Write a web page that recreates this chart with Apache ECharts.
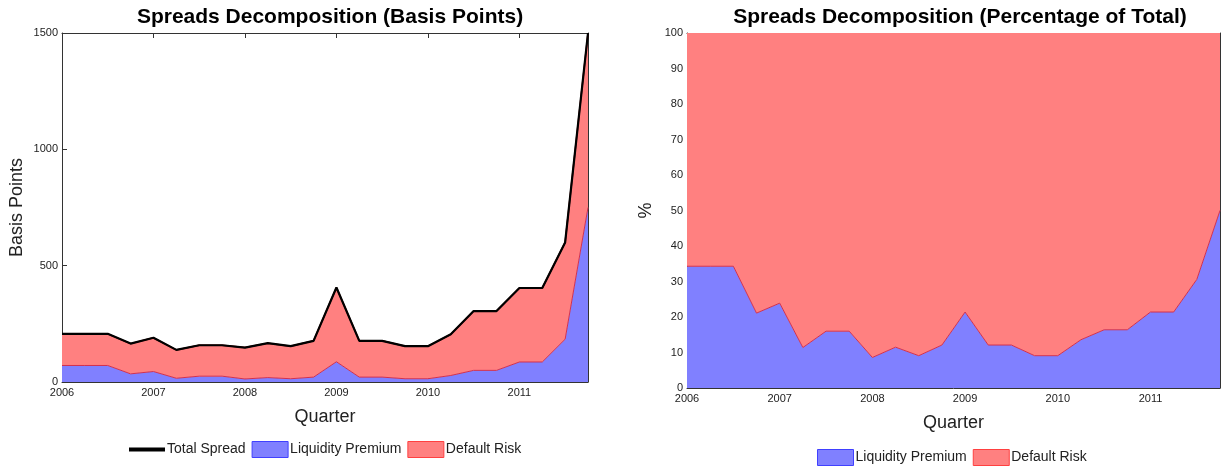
<!DOCTYPE html>
<html>
<head>
<meta charset="utf-8">
<script src="https://cdn.jsdelivr.net/npm/echarts@6/dist/echarts.min.js"></script>
<style>
html,body{margin:0;padding:0;background:#fff;}
#chart{width:1221px;height:468px;}
</style>
</head>
<body>
<div id="chart"></div>
<script>
const quarters = ['2006Q1','2006Q2','2006Q3','2006Q4','2007Q1','2007Q2','2007Q3','2007Q4',
  '2008Q1','2008Q2','2008Q3','2008Q4','2009Q1','2009Q2','2009Q3','2009Q4',
  '2010Q1','2010Q2','2010Q3','2010Q4','2011Q1','2011Q2','2011Q3','2011Q4'];
const totalSpreadBp = [207,207,207,165,190,138,158,158,148,167,154,177,406,177,177,154,154,205,305,305,404,404,600,1500];
const liquidityBp   = [71,71,71,35,45,16,25,25,13,19,14,21,87,21,21,14,14,28,50,50,86,86,184,750];
const defaultRiskBp = [136,136,136,130,145,122,133,133,135,148,140,156,319,156,156,140,140,177,255,255,318,318,416,750];
const liquidityPct  = [34.3,34.3,34.3,21.1,23.9,11.4,16.0,16.0,8.6,11.5,9.1,12.1,21.4,12.1,12.1,9.1,9.1,13.6,16.4,16.4,21.4,21.4,30.6,50.0];
const defaultPct    = [65.7,65.7,65.7,78.9,76.1,88.6,84.0,84.0,91.4,88.5,90.9,87.9,78.6,87.9,87.9,90.9,90.9,86.4,83.6,83.6,78.6,78.6,69.4,50.0];
const leftTitle = 'Spreads Decomposition (Basis Points)';
const rightTitle = 'Spreads Decomposition (Percentage of Total)';

const FONT = '"Liberation Sans", Arial, sans-serif';
const AX = '#333';
const BLUE = '#8080ff';
const RED = '#ff8080';

function xAx(grid, pos, labels, name) {
  return {
    type: 'category', gridIndex: grid, position: pos, data: quarters, boundaryGap: false,
    axisLine: { show: true, onZero: false, lineStyle: { color: AX, width: 1 } },
    axisTick: { show: true, inside: true, length: 5, interval: 3, lineStyle: { color: AX } },
    axisLabel: { show: labels, interval: 3, formatter: v => v.slice(0, 4), fontSize: 11, color: '#222', fontFamily: FONT, margin: 5 },
    splitLine: { show: false },
    name: name || '', nameLocation: 'middle', nameGap: 26,
    nameTextStyle: { fontSize: 18, color: '#222', fontFamily: FONT }
  };
}
function yAx(grid, pos, max, interval, labels, name, gap) {
  return {
    type: 'value', gridIndex: grid, position: pos, min: 0, max: max, interval: interval,
    axisLine: { show: true, lineStyle: { color: AX, width: 1 } },
    axisTick: { show: true, inside: true, length: 5, lineStyle: { color: AX } },
    axisLabel: { show: labels, fontSize: 11, color: '#222', fontFamily: FONT, margin: 4, formatter: v => String(v) },
    splitLine: { show: false },
    name: name || '', nameLocation: 'middle', nameGap: gap || 30, nameRotate: 90,
    nameTextStyle: { fontSize: 18, color: '#222', fontFamily: FONT }
  };
}

const option = {
  animation: false,
  backgroundColor: '#fff',
  textStyle: { fontFamily: FONT },
  title: [
    { text: leftTitle, left: 325, top: 2, textAlign: 'center',
      textStyle: { fontSize: 21, fontWeight: 'bold', color: '#000', fontFamily: FONT } },
    { text: rightTitle, left: 955, top: 2, textAlign: 'center',
      textStyle: { fontSize: 21, fontWeight: 'bold', color: '#000', fontFamily: FONT } }
  ],
  legend: [
    { left: 124, top: 436, itemWidth: 36, itemHeight: 16, itemGap: 6,
      textStyle: { fontSize: 14, color: '#222', fontFamily: FONT, padding: [0, 0, 0, -3] },
      data: [
        { name: 'Total Spread', icon: 'path://M0,0L36,0L36,4L0,4Z', itemStyle: { color: '#000', borderWidth: 0 } },
        { name: 'Liquidity Premium', icon: 'rect', itemStyle: { color: BLUE, borderColor: '#4040ff', borderWidth: 1 } },
        { name: 'Default Risk', icon: 'rect', itemStyle: { color: RED, borderColor: '#ff4040', borderWidth: 1 } }
      ] },
    { left: 812, top: 444, itemWidth: 36, itemHeight: 16, itemGap: 6,
      textStyle: { fontSize: 14, color: '#222', fontFamily: FONT, padding: [0, 0, 0, -3] },
      data: [
        { name: 'Liquidity Premium', icon: 'rect', itemStyle: { color: BLUE, borderColor: '#4040ff', borderWidth: 1 } },
        { name: 'Default Risk', icon: 'rect', itemStyle: { color: RED, borderColor: '#ff4040', borderWidth: 1 } }
      ] }
  ],
  grid: [
    { left: 62, top: 33, width: 526, height: 349, containLabel: false },
    { left: 687, top: 33, width: 533, height: 355, containLabel: false }
  ],
  xAxis: [
    xAx(0, 'bottom', true, 'Quarter'),
    xAx(0, 'top', false),
    xAx(1, 'bottom', true, 'Quarter'),
    xAx(1, 'top', false)
  ],
  yAxis: [
    yAx(0, 'left', 1500, 500, true, 'Basis Points', 36),
    yAx(0, 'right', 1500, 500, false),
    yAx(1, 'left', 100, 10, true, '%', 32),
    yAx(1, 'right', 100, 10, false)
  ],
  series: [
    { name: 'Liquidity Premium', type: 'line', xAxisIndex: 0, yAxisIndex: 0, stack: 'bp',
      data: liquidityBp, symbol: 'none', color: BLUE,
      lineStyle: { color: '#d03050', width: 1 },
      areaStyle: { color: BLUE, opacity: 1 }, z: 2 },
    { name: 'Default Risk', type: 'line', xAxisIndex: 0, yAxisIndex: 0, stack: 'bp',
      data: defaultRiskBp, symbol: 'none', color: RED,
      lineStyle: { color: '#900000', width: 1.5 },
      areaStyle: { color: RED, opacity: 1 }, z: 2 },
    { name: 'Total Spread', type: 'line', xAxisIndex: 0, yAxisIndex: 0,
      data: totalSpreadBp, symbol: 'none', color: '#000',
      lineStyle: { color: '#000', width: 2.2 }, z: 3 },
    { name: 'Liquidity Premium', type: 'line', xAxisIndex: 2, yAxisIndex: 2, stack: 'pct',
      data: liquidityPct, symbol: 'none', color: BLUE,
      lineStyle: { color: '#d03050', width: 1 },
      areaStyle: { color: BLUE, opacity: 1 }, z: 2 },
    { name: 'Default Risk', type: 'line', xAxisIndex: 2, yAxisIndex: 2, stack: 'pct',
      data: defaultPct, symbol: 'none', color: RED,
      lineStyle: { color: RED, width: 0 },
      areaStyle: { color: RED, opacity: 1 }, z: 2 }
  ]
};

const chart = echarts.init(document.getElementById('chart'), null, { renderer: 'canvas' });
chart.setOption(option);
</script>
</body>
</html>
